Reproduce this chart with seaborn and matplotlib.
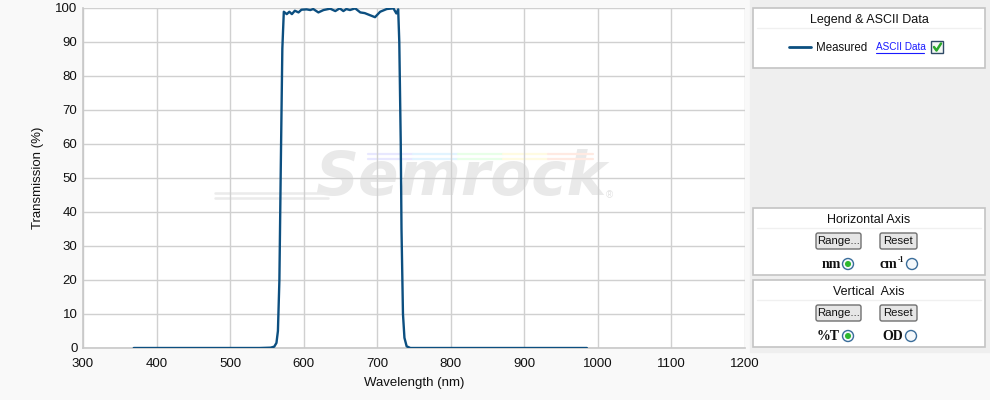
import numpy as np
import pandas as pd
import matplotlib
matplotlib.use('Agg')
import matplotlib.pyplot as plt
import seaborn as sns
from matplotlib.patches import Rectangle, FancyBboxPatch, Circle

wavelength = [369, 400, 450, 500, 540, 555, 560, 563, 565, 567, 569, 571, 573,
              577, 580.5, 584, 588, 593, 597, 604, 609, 613, 620, 627, 636, 643,
              649, 654, 658, 663, 670, 677, 683, 690, 697, 704, 713, 722, 726,
              728.5, 730, 732, 733, 735, 737, 740, 745, 800, 900, 985]
transmission = [0, 0, 0, 0, 0, 0.1, 0.4, 1.5, 5, 20, 55, 88, 98.9,
                98.2, 98.9, 98.2, 99.2, 98.7, 99.5, 99.6, 99.4, 99.7, 98.7, 99.4, 99.8, 99.1,
                99.9, 99.1, 99.7, 99.4, 99.9, 98.7, 98.5, 97.9, 97.3, 98.9, 99.7, 99.9, 98.4,
                99.6, 90, 60, 35, 10, 3, 0.5, 0, 0, 0, 0]
series_name = 'Measured'
x_ticks = list(range(300, 1201, 100))
y_ticks = list(range(0, 101, 10))

df = pd.DataFrame({'wl': wavelength, 't': transmission})

sns.set_theme(style='whitegrid')
plt.rcParams['font.family'] = ['Liberation Sans', 'DejaVu Sans']

W, H = 990, 400
fig = plt.figure(figsize=(W / 100, H / 100), dpi=100, facecolor='#f9f9f9')

# 覆盖层：右侧面板（像素坐标）
ov = fig.add_axes([0, 0, 1, 1], zorder=0)
ov.set_xlim(0, W)
ov.set_ylim(H, 0)
ov.axis('off')
ov.add_patch(Rectangle((750, 0), 240, 352, color='#efefef', zorder=0))

BLUE = '#0c4f80'


def panel(y0, y1, title):
    ov.add_patch(Rectangle((753, y0), 232, y1 - y0, facecolor='white',
                           edgecolor='#c4c4c4', lw=1.2, zorder=1))
    ov.plot([757, 981], [y0 + 20, y0 + 20], color='#f0f0f0', lw=1, zorder=2)
    ov.text(869, y0 + 12, title, ha='center', va='center', fontsize=9,
            color='#111111', zorder=3)


def button(x, y, w, label):
    ov.add_patch(FancyBboxPatch((x, y), w, 16, boxstyle='round,pad=0,rounding_size=2',
                                facecolor='#e6e6e6', edgecolor='#707070', lw=1, zorder=3))
    ov.text(x + w / 2, y + 8.5, label, ha='center', va='center', fontsize=8.2,
            color='#111111', zorder=4)


def radio(x, y, on):
    ov.add_patch(Circle((x, y), 5.5, facecolor='#f4f8fb', edgecolor='#3a6d9a',
                        lw=1, zorder=3))
    if on:
        ov.add_patch(Circle((x, y), 2.3, color='#2db82d', zorder=4))


def bold_label(x, y, s, ha):
    ov.text(x, y, s, ha=ha, va='center', fontsize=10, fontweight='bold',
            family='Liberation Serif', color='#111111', zorder=3)


panel(8, 68, 'Legend & ASCII Data')
ov.plot([789, 811], [47, 47], color=BLUE, lw=2, zorder=3)
ov.text(816, 48, series_name, ha='left', va='center', fontsize=8.3, color='#111111', zorder=3)
ov.text(876, 47, 'ASCII Data', ha='left', va='center', fontsize=7.2, color='#1a1aff', zorder=3)
ov.plot([876, 924], [52.5, 52.5], color='#1a1aff', lw=0.8, zorder=3)
ov.add_patch(Rectangle((931, 41), 12, 12, facecolor='#f4f8f4', edgecolor='#2f4a66',
                       lw=1, zorder=3))
ov.plot([934, 936.5, 941], [47, 50.5, 43.5], color='#2aa82a', lw=1.8, zorder=4)

panel(208, 275, 'Horizontal Axis')
button(816, 233, 45, 'Range...')
button(880, 233, 37, 'Reset')
bold_label(841, 265, 'nm', 'right')
radio(848, 264, True)
bold_label(880, 265, 'cm', 'left')
ov.text(898, 260, '-1', ha='left', va='center', fontsize=5.5, fontweight='bold',
        family='Liberation Serif', color='#111111', zorder=3)
radio(912, 264, False)

panel(280, 347, 'Vertical  Axis')
button(816, 305, 45, 'Range...')
button(880, 305, 37, 'Reset')
bold_label(840, 337, '%T', 'right')
radio(848, 336, True)
bold_label(903, 337, 'OD', 'right')
radio(911, 336, False)

# 主图
ax = fig.add_axes([83 / W, 1 - 348 / H, (745 - 83) / W, (348 - 8) / H], zorder=2)
ax.set_facecolor('white')

# 水印
ax.text(0.57, 0.50, 'Semrock', transform=ax.transAxes, ha='center', va='center',
        fontsize=43, fontweight='bold', fontstyle='italic', family='DejaVu Sans',
        color='#e9e9e9', zorder=0)
ax.text(0.795, 0.45, '®', transform=ax.transAxes, ha='center', va='center',
        fontsize=7, color='#e2e2e2', zorder=0)
for yy in [0.44, 0.455]:
    ax.plot([0.20, 0.37], [yy, yy], transform=ax.transAxes,
            color='#ebebeb', lw=1.8, zorder=0)
rainbow = ['#e8e8ff', '#e2f4ff', '#e8ffe8', '#fffbe2', '#ffeae2']
for i, c in enumerate(rainbow):
    for yy in [0.556, 0.57]:
        ax.plot([0.43 + i * 0.068, 0.498 + i * 0.068], [yy, yy], transform=ax.transAxes,
                color=c, lw=1.6, zorder=0)

sns.lineplot(data=df, x='wl', y='t', ax=ax, color=BLUE, lw=1.7, zorder=3,
             estimator=None, sort=False)

ax.set_xlim(300, 1200)
ax.set_ylim(0, 100)
ax.set_xticks(x_ticks)
ax.set_yticks(y_ticks)
ax.grid(True, color='#d0d0d0', lw=1)
ax.tick_params(length=0, labelsize=9.5, colors='#111111')
ax.tick_params(axis='x', pad=7)
ax.tick_params(axis='y', pad=4)
for s in ['top', 'right']:
    ax.spines[s].set_visible(False)
for s in ['left', 'bottom']:
    ax.spines[s].set_color('#c8c8c8')
    ax.spines[s].set_linewidth(1.2)
ax.set_xlabel('Wavelength (nm)', fontsize=9.5, color='#111111', labelpad=5)
ax.set_ylabel('Transmission (%)', fontsize=9.5, color='#111111', labelpad=8)

fig.savefig('out.png', dpi=100, facecolor=fig.get_facecolor())
